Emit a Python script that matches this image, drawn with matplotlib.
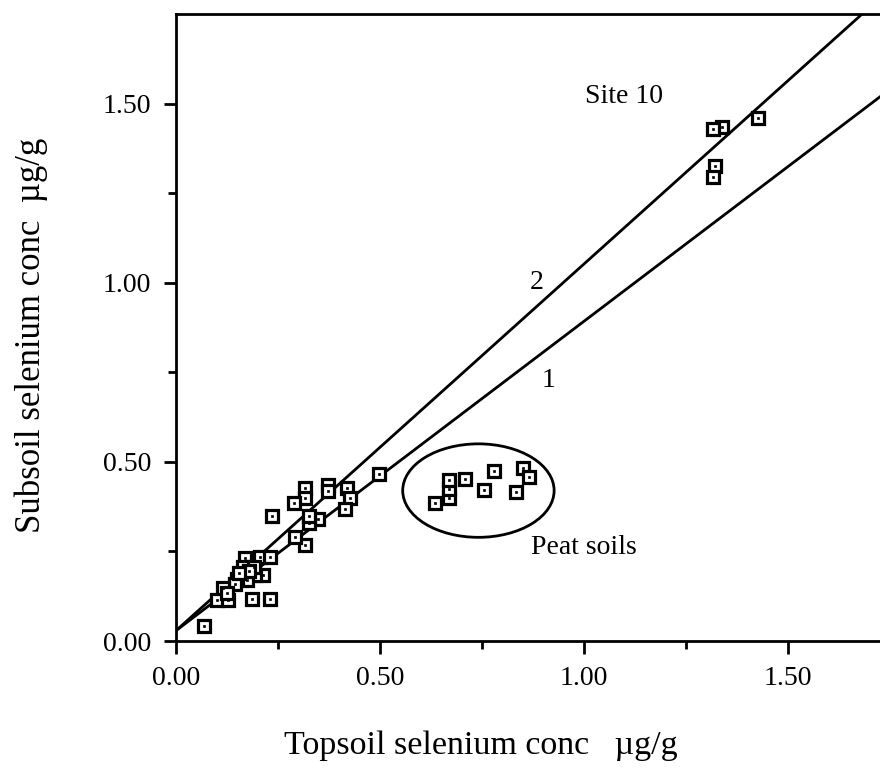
import matplotlib
matplotlib.use("Agg")
import numpy as np
from matplotlib import pyplot as plt
from matplotlib.patches import Ellipse

# mineral soils (topsoil vs subsoil selenium, ug/g)
topsoil = [0.069, 0.186, 0.230, 0.235, 0.315, 0.315, 0.288, 0.372, 0.372, 0.418,
           0.426, 0.413, 0.497, 0.315, 0.292, 0.349, 0.326, 0.327,
           0.169, 0.206, 0.230, 0.214, 0.194, 0.173, 0.149, 0.144, 0.116,
           0.100, 0.128, 0.126, 0.165, 0.190, 0.180, 0.155]
subsoil = [0.043, 0.116, 0.116, 0.349, 0.426, 0.400, 0.386, 0.436, 0.420, 0.428,
           0.399, 0.368, 0.466, 0.267, 0.291, 0.340, 0.329, 0.350,
           0.231, 0.235, 0.235, 0.184, 0.184, 0.170, 0.172, 0.160, 0.147,
           0.115, 0.115, 0.135, 0.208, 0.208, 0.195, 0.190]

# peat soils
peat_top = [0.635, 0.670, 0.670, 0.670, 0.708, 0.755, 0.780, 0.833, 0.851, 0.866]
peat_sub = [0.385, 0.399, 0.424, 0.450, 0.452, 0.422, 0.475, 0.415, 0.482, 0.459]

# site 10
site10_top = [1.337, 1.317, 1.427, 1.321, 1.315]
site10_sub = [1.435, 1.429, 1.459, 1.325, 1.295]

# fitted lines (slope, intercept)
line_labels = ['1', '2']
slopes = [0.864, 1.024]
intercepts = [0.029, 0.029]

serif = 'Liberation Serif'
fig = plt.figure(figsize=(8.8, 7.7), dpi=100)
ax = fig.add_axes([0.2, 0.1675, 0.8, 0.8145])

xs = np.concatenate([topsoil, peat_top, site10_top])
ys = np.concatenate([subsoil, peat_sub, site10_sub])
ax.plot(xs, ys, 's', ms=8, mfc='white', mec='black', mew=2.3, ls='none', zorder=3)
ax.plot(xs, ys, 's', ms=2, mfc='black', mec='black', mew=0.5, ls='none', zorder=4)

xl = np.array([0, 2.0])
for m, b in zip(slopes, intercepts):
    ax.plot(xl, m * xl + b, color='black', lw=2.0, zorder=2)

ax.add_patch(Ellipse((0.741, 0.42), 0.371, 0.261, fill=False, ec='black', lw=2.0))

font = {'family': serif, 'color': 'black', 'size': 20}
ax.text(1.098, 1.519, 'Site 10', fontdict=font, ha='center', va='center')
ax.text(0.885, 1.0, line_labels[1], fontdict=font, ha='center', va='center')
ax.text(0.914, 0.726, line_labels[0], fontdict=font, ha='center', va='center')
ax.text(1.0, 0.26, 'Peat soils', fontdict=font, ha='center', va='center')

ax.set_xlim(0, 1.725)
ax.set_ylim(0, 1.751)
ax.set_xticks([0, 0.5, 1.0, 1.5])
ax.set_yticks([0, 0.5, 1.0, 1.5])
ax.set_xticks([0.25, 0.75, 1.25], minor=True)
ax.set_yticks([0.25, 0.75, 1.25], minor=True)
ax.set_xticklabels(['0.00', '0.50', '1.00', '1.50'], fontfamily=serif, fontsize=20)
ax.set_yticklabels(['0.00', '0.50', '1.00', '1.50'], fontfamily=serif, fontsize=20)
ax.tick_params(which='major', direction='out', length=9, width=2, pad=9)
ax.tick_params(which='minor', direction='out', length=6, width=2)
for s in ['left', 'top', 'bottom']:
    ax.spines[s].set_linewidth(2)
ax.spines['right'].set_visible(False)

fig.text(0.546, 0.032, 'Topsoil selenium conc   \u00b5g/g', family=serif, size=24.5,
         ha='center', va='center')
fig.text(0.036, 0.565, 'Subsoil selenium conc  \u00b5g/g', family=serif, size=25,
         ha='center', va='center', rotation=90)

plt.savefig('out.png', dpi=100)
